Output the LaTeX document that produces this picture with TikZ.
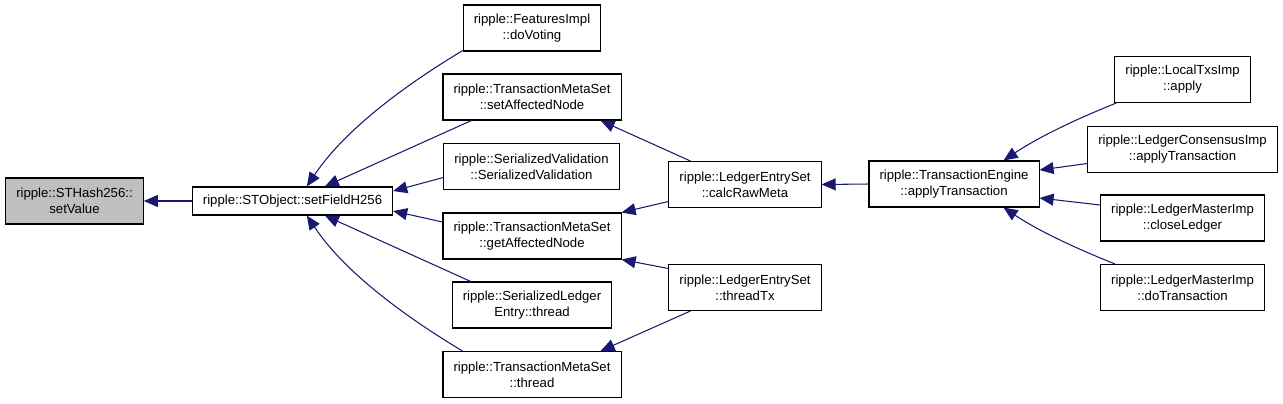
\documentclass[tikz,border=0pt]{standalone}
\usepackage{fontspec}
\setmainfont{Liberation Sans}
\usepackage{xcolor}
\usepackage{tikz}
\usetikzlibrary{arrows.meta,positioning,calc}

\definecolor{edgeblue}{HTML}{191970}

\begin{document}
\begin{tikzpicture}[
  x=0.02cm, y=-0.02cm,
  fn/.style={rectangle, draw, line width=0.6pt, fill=white, align=center,
             font=\fontsize{7.5}{9.2}\selectfont, inner xsep=6pt, inner ysep=2pt,
             minimum height=0.92cm},
  fnone/.style={fn, minimum height=0.56cm},
  call/.style={->, draw=edgeblue, line width=0.6pt,
               >={Triangle[length=8pt, width=6.8pt, fill=edgeblue]}}
]
\useasboundingbox (0,0) rectangle (1283,403);

% function nodes
\node[fn, fill=gray!50] (setv) at (74.5,201) {ripple::STHash256::\\setValue};
\node[fnone] (sfh) at (292.5,201) {ripple::STObject::setFieldH256};

\node[fn] (fi)  at (532,28)    {ripple::FeaturesImpl\\::doVoting};
\node[fn] (tsa) at (532,97)    {ripple::TransactionMetaSet\\::setAffectedNode};
\node[fn] (svd) at (531.5,166.5) {ripple::SerializedValidation\\::SerializedValidation};
\node[fn] (tga) at (532,236)   {ripple::TransactionMetaSet\\::getAffectedNode};
\node[fn] (sle) at (532,305)   {ripple::SerializedLedger\\Entry::thread};
\node[fn] (tmt) at (532,374.5) {ripple::TransactionMetaSet\\::thread};

\node[fn] (crm) at (745,184.5) {ripple::LedgerEntrySet\\::calcRawMeta};
\node[fn] (ttx) at (745,287.5) {ripple::LedgerEntrySet\\::threadTx};

\node[fn] (te)  at (954,184)    {ripple::TransactionEngine\\::applyTransaction};
\node[fn] (ltx) at (1182.5,79.5)  {ripple::LocalTxsImp\\::apply};
\node[fn] (lci) at (1182.5,149.5) {ripple::LedgerConsensusImp\\::applyTransaction};
\node[fn] (lcl) at (1182.5,218)   {ripple::LedgerMasterImp\\::closeLedger};
\node[fn] (ldt) at (1182.5,287.5) {ripple::LedgerMasterImp\\::doTransaction};

% calls
\draw[call] (sfh.west) -- (setv.east);

\draw[call] ($(fi.south west)+(0,-1)$) .. controls +(-50,30) and +(40,-60) .. ($(sfh.north west)+(115,0)$);
\draw[call] ($(tsa.south west)+(29,0)$) -- ($(sfh.north west)+(133,0)$);
\draw[call] ($(svd.west)+(0,11)$) -- ($(sfh.east)+(0,-10)$);
\draw[call] ($(tga.west)+(0,-14)$) -- ($(sfh.east)+(0,10)$);
\draw[call] ($(sle.north west)+(19,0)$) -- ($(sfh.south west)+(133,0)$);
\draw[call] ($(tmt.north west)+(20,0)$) .. controls +(-50,-30) and +(40,60) .. ($(sfh.south west)+(115,0)$);

\draw[call] ($(crm.north west)+(22,0)$) -- ($(tsa.south east)+(-21,0)$);
\draw[call] ($(crm.west)+(0,17)$) -- (tga.north east);
\draw[call] ($(ttx.west)+(0,-19)$) -- (tga.south east);
\draw[call] ($(ttx.south west)+(22,0)$) -- ($(tmt.north east)+(-21,0)$);

\draw[call] (te.west) -- (crm.east);

\draw[call] ($(ltx.south west)+(2,0)$) .. controls +(-50,20) and +(30,-20) .. ($(te.north east)+(-36,0)$);
\draw[call] ($(lci.west)+(0,14)$) -- ($(te.east)+(0,-14)$);
\draw[call] ($(lcl.west)+(0,-13)$) -- ($(te.east)+(0,14)$);
\draw[call] ($(ldt.north west)+(15,0)$) .. controls +(-50,-20) and +(30,20) .. ($(te.south east)+(-36,0)$);
\end{tikzpicture}
\end{document}
